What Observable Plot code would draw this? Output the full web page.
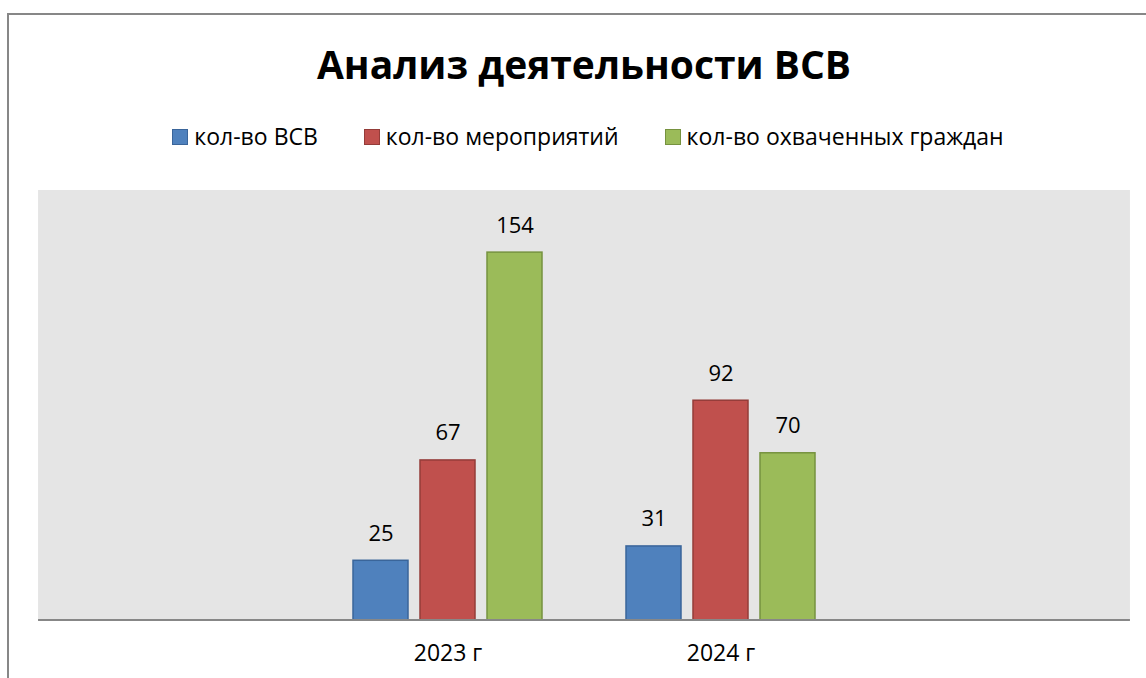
<!DOCTYPE html>
<html>
<head>
<meta charset="utf-8">
<script src="https://cdn.jsdelivr.net/npm/d3@7"></script>
<script src="https://cdn.jsdelivr.net/npm/@observablehq/plot@0.6"></script>
<style>
  html, body { margin: 0; padding: 0; background: #fff; overflow: hidden; width: 1146px; height: 678px; }
  body { position: relative; font-family: "Open Sans", sans-serif; color: #000; }
  #border { position: absolute; left: 7px; top: 13px; width: 1300px; height: 800px; border: 2px solid #878787; box-sizing: border-box; }
  #title { position: absolute; left: 22px; width: 1124px; top: 44px; text-align: center; font-weight: bold; font-size: 39px; line-height: 1; white-space: nowrap; }
  #legend { position: absolute; left: 26px; width: 1124px; top: 125px; display: flex; justify-content: center; gap: 46px; font-size: 23px; line-height: 23px; }
  .item { display: flex; align-items: center; gap: 6px; white-space: nowrap; }
  .sw { width: 14px; height: 14px; border: 1px solid; display: inline-block; }
  #chart { position: absolute; left: 0; top: 170px; }
</style>
</head>
<body>
<div id="border"></div>
<div id="title">Анализ деятельности ВСВ</div>
<div id="legend"></div>
<div id="chart"></div>
<script>
const years = ["2023 г", "2024 г"];
const seriesNames = ["кол-во ВСВ", "кол-во мероприятий", "кол-во охваченных граждан"];
const countVSV = [25, 31];
const countEvents = [67, 92];
const countCitizens = [154, 70];

const fillColors = ["#4F81BD", "#C0504D", "#9BBB59"];
const strokeColors = ["#3A659A", "#943C39", "#76923F"];

const seriesValues = [countVSV, countEvents, countCitizens];
const rows = [];
years.forEach((year, i) => {
  seriesNames.forEach((s, j) => {
    rows.push({ year, series: s, value: seriesValues[j][i] });
  });
});

// legend
const legend = document.getElementById("legend");
seriesNames.forEach((s, j) => {
  const it = document.createElement("div");
  it.className = "item";
  const sw = document.createElement("span");
  sw.className = "sw";
  sw.style.background = fillColors[j];
  sw.style.borderColor = strokeColors[j];
  const t = document.createElement("span");
  t.textContent = s;
  it.appendChild(sw);
  it.appendChild(t);
  legend.appendChild(it);
});

const fxPaddingOuter = 1.15;
const chart = Plot.plot({
  width: 1146,
  height: 508,
  marginLeft: 37,
  marginRight: 15,
  marginTop: 20,
  marginBottom: 58,
  style: { fontFamily: "Open Sans, sans-serif", fontSize: "23px", color: "#000", background: "transparent" },
  fx: { domain: years, paddingInner: 0.30, paddingOuter: fxPaddingOuter, axis: "bottom", label: null, tickSize: 0, tickPadding: 24 },
  x: { domain: seriesNames, paddingInner: 0.184, paddingOuter: 0, axis: null },
  y: { domain: [0, 180], axis: null },
  color: { domain: seriesNames, range: fillColors },
  marks: [
    Plot.barY(rows, {
      fx: "year", x: "series", y: "value", fill: "series",
      stroke: d => strokeColors[seriesNames.indexOf(d.series)], strokeWidth: 1.5
    }),
    Plot.text(rows, { fx: "year", x: "series", y: "value", text: d => String(d.value), dy: -27, fill: "#000", fontSize: 22 })
  ]
});

// plot-area background and baseline, from the library's own scales
const fxS = chart.scale("fx");
const step = fxS.step, bw = fxS.bandwidth;
const x0 = fxS.apply(years[0]) - fxPaddingOuter * step;
const x1 = fxS.apply(years[years.length - 1]) + bw + fxPaddingOuter * step;
const yS = chart.scale("y");
const yTop = yS.apply(180), yBase = yS.apply(0);
const svg = d3.select(chart);
svg.insert("rect", ":first-child")
  .attr("x", x0).attr("y", yTop)
  .attr("width", x1 - x0).attr("height", yBase - yTop)
  .attr("fill", "#E5E5E5");
svg.append("line")
  .attr("x1", x0).attr("x2", x1)
  .attr("y1", yBase).attr("y2", yBase)
  .attr("stroke", "#878787").attr("stroke-width", 2);

document.getElementById("chart").appendChild(chart);
</script>
</body>
</html>
